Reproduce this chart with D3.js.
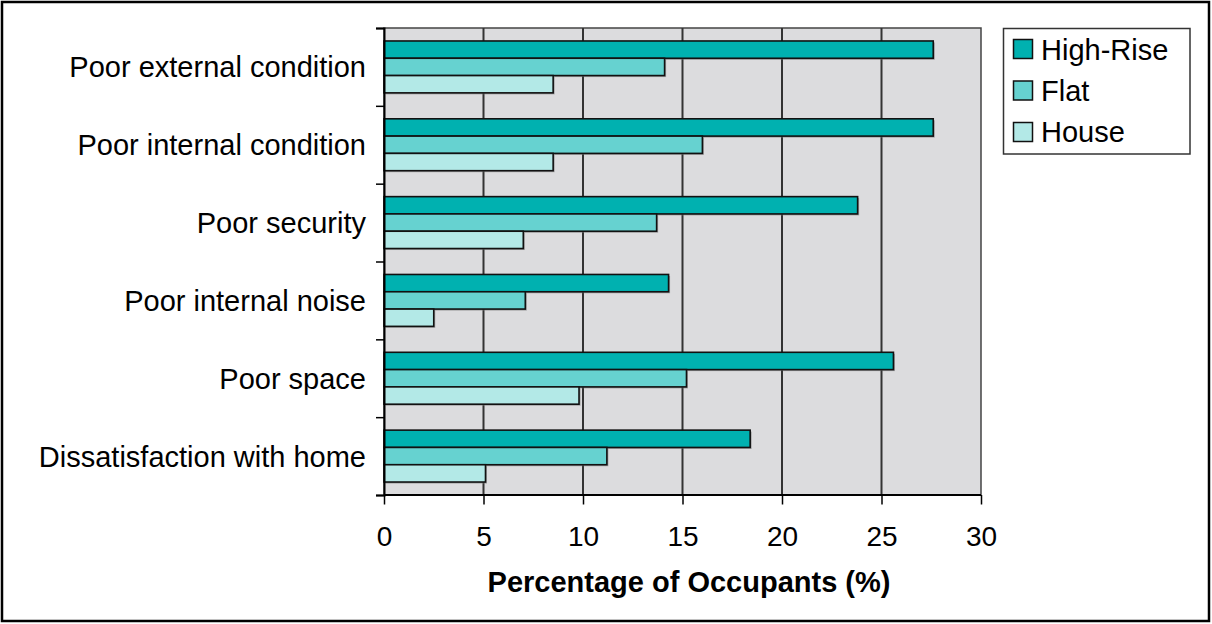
<!DOCTYPE html>
<html><head><meta charset="utf-8">
<script src="https://cdn.jsdelivr.net/npm/d3@7"></script>
<style>body{margin:0;background:#fff}svg{display:block}text{font-family:"Liberation Sans",Arial,sans-serif;fill:#000}</style>
</head><body><svg id="c" width="1212" height="624"></svg>
<script>
const categories = ["Poor external condition","Poor internal condition","Poor security","Poor internal noise","Poor space","Dissatisfaction with home"];
const seriesNames = ["High-Rise","Flat","House"];
const highRise = [27.6, 27.6, 23.8, 14.3, 25.6, 18.4];
const flat = [14.1, 16.0, 13.7, 7.1, 15.2, 11.2];
const house = [8.5, 8.5, 7.0, 2.5, 9.8, 5.1];
const xTicks = [0,5,10,15,20,25,30];
const colors = ["#00B1B0","#66D2D0","#B3E9E7"];
const series = [highRise, flat, house];

const svg = d3.select("#c");
const L = 384, R = 981, T = 28, B = 495;
svg.append("rect").attr("x",2).attr("y",2).attr("width",1207).attr("height",619)
  .attr("fill","#fff").attr("stroke","#000").attr("stroke-width",2.5);

const x = d3.scaleLinear().domain([0,30]).range([L,R]);
const y = d3.scaleBand().domain(categories).range([T,B]).paddingInner(1/3).paddingOuter(1/6);
const ys = d3.scaleBand().domain(seriesNames).range([0,y.bandwidth()]);

svg.append("rect").attr("x",L).attr("y",T).attr("width",R-L).attr("height",B-T)
  .attr("fill","#DCDCDE").attr("stroke","#444").attr("stroke-width",1.5);
svg.append("g").selectAll("line").data(xTicks.slice(1,-1)).join("line")
  .attr("x1",d=>x(d)).attr("x2",d=>x(d)).attr("y1",T).attr("y2",B)
  .attr("stroke","#333").attr("stroke-width",2);

// bars
const rows = [];
categories.forEach((c,i)=>seriesNames.forEach((s,j)=>rows.push({c,s,v:series[j][i],j})));
svg.append("g").selectAll("rect").data(rows).join("rect")
  .attr("x",x(0)+1.5).attr("y",d=>y(d.c)+ys(d.s)+1.5)
  .attr("width",d=>x(d.v)-x(0)).attr("height",ys.bandwidth())
  .attr("fill","#777").attr("opacity",0.6);
svg.append("g").selectAll("rect").data(rows).join("rect")
  .attr("x",x(0)).attr("y",d=>y(d.c)+ys(d.s))
  .attr("width",d=>x(d.v)-x(0)).attr("height",ys.bandwidth())
  .attr("fill",d=>colors[d.j]).attr("stroke","#111").attr("stroke-width",1.6);

// axes
const yAxis = d3.axisLeft(d3.scalePoint().domain(d3.range(categories.length+1)).range([T,B]))
  .tickSize(8).tickFormat("");
const yg = svg.append("g").attr("transform",`translate(${L},0)`).call(yAxis);
yg.select(".domain").attr("stroke","#000").attr("stroke-width",2);
yg.selectAll(".tick line").attr("stroke","#000").attr("stroke-width",1.5);

const xAxis = d3.axisBottom(x).tickValues(xTicks).tickSize(9.5).tickPadding(11).tickFormat(d3.format("d"));
const xg = svg.append("g").attr("transform",`translate(0,${B})`).call(xAxis);
xg.select(".domain").attr("stroke","#000").attr("stroke-width",2).attr("d",`M${L},0H${R}`);
xg.selectAll(".tick line").attr("stroke","#000").attr("stroke-width",1.5);
xg.selectAll(".tick text").attr("font-size",28).attr("fill","#000")
  .attr("font-family","'Liberation Sans',Arial,sans-serif")
  .attr("y",50.5).attr("dy",null);

// category labels
svg.append("g").selectAll("text").data(categories).join("text")
  .attr("x",366).attr("y",d=>y(d)+y.bandwidth()/2).attr("dy","0.36em")
  .attr("text-anchor","end").attr("font-size",29).text(d=>d);

// x title
svg.append("text").attr("x",689).attr("y",592).attr("text-anchor","middle")
  .attr("font-size",29).attr("font-weight","bold")
  .text("Percentage of Occupants (%)");

// legend
const lg = svg.append("g");
lg.append("rect").attr("x",1003.5).attr("y",28.5).attr("width",186.5).attr("height",125.5)
  .attr("fill","#fff").attr("stroke","#333").attr("stroke-width",1.5);
seriesNames.forEach((s,i)=>{
  lg.append("rect").attr("x",1013.5).attr("y",39.5+i*41.5).attr("width",19).attr("height",19)
    .attr("fill",colors[i]).attr("stroke","#111").attr("stroke-width",1.5);
  lg.append("text").attr("x",1041).attr("y",59.5+i*41).attr("font-size",29).text(s);
});
</script></body></html>
